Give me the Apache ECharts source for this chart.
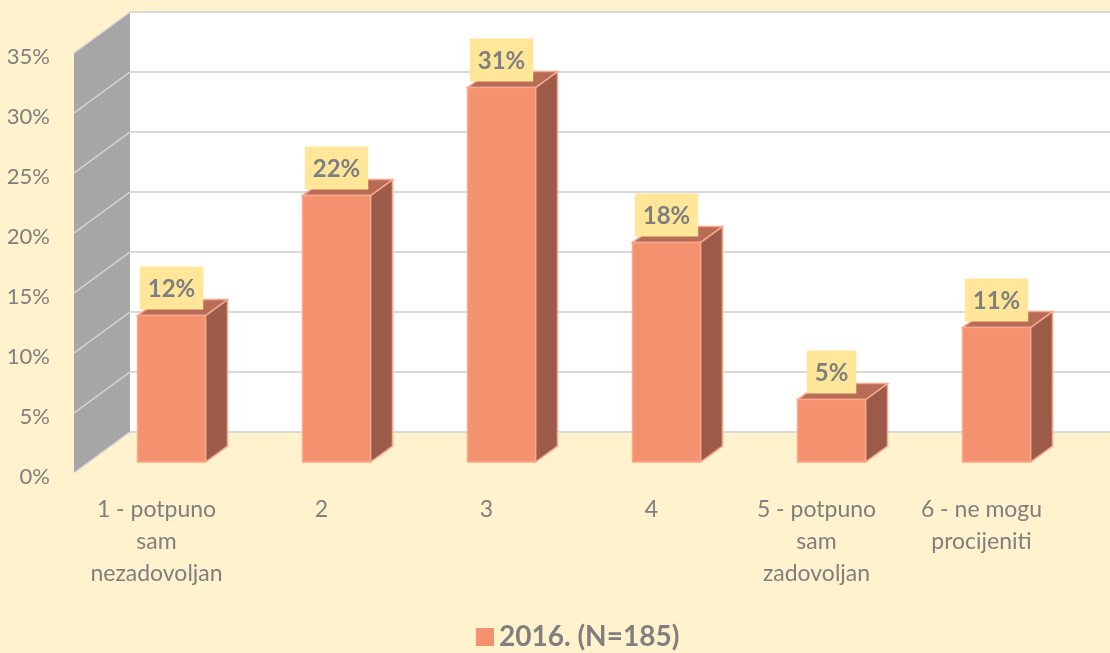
<!DOCTYPE html>
<html>
<head>
<meta charset="utf-8">
<script src="https://cdn.jsdelivr.net/npm/echarts@6/dist/echarts.min.js"></script>
<style>
html,body{margin:0;padding:0;background:#FFF2CC;}
#chart{width:1110px;height:653px;}
</style>
</head>
<body>
<div id="chart"></div>
<script>
const categories = ['1 - potpuno\nsam\nnezadovoljan', '2', '3', '4', '5 - potpuno\nsam\nzadovoljan', '6 - ne mogu\nprocijeniti'];
const values = [12.2, 22.2, 31.2, 18.3, 5.2, 11.2];
const seriesName = '2016. (N=185)';
const yTicks = [0, 5, 10, 15, 20, 25, 30, 35];

const FONT = 'Lato, "Noto Sans", sans-serif';
const GRAY = '#7F7F7F';
const WALL_DX = 56, WALL_DY = -41;
const BAR_OFF_X = 15, BAR_OFF_Y = -11;
const BAR_DX = 22, BAR_DY = -16;

const chart = echarts.init(document.getElementById('chart'));

function renderWalls(params, api) {
  const cs = params.coordSys;
  const left = cs.x;
  const right = cs.x + cs.width;
  const yTop = api.coord([0, yTicks[yTicks.length - 1]])[1];
  const yBot = api.coord([0, yTicks[0]])[1];
  const children = [];
  children.push({
    type: 'rect',
    shape: { x: left + WALL_DX, y: yTop + WALL_DY, width: right - left + 100, height: yBot - yTop },
    style: { fill: '#FFFFFF' }
  });
  children.push({
    type: 'polygon',
    shape: { points: [[left, yBot], [left, yTop], [left + WALL_DX, yTop + WALL_DY], [left + WALL_DX, yBot + WALL_DY]] },
    style: { fill: '#A6A6A6' }
  });
  yTicks.forEach(function (t) {
    const y = api.coord([0, t])[1];
    children.push({
      type: 'line',
      shape: { x1: left + WALL_DX, y1: y + WALL_DY, x2: right + 200, y2: y + WALL_DY },
      style: { stroke: '#D9D9D9', lineWidth: 2 }
    });
    children.push({
      type: 'line',
      shape: { x1: left, y1: y, x2: left + WALL_DX, y2: y + WALL_DY },
      style: { stroke: '#D9D9D9', lineWidth: 1.5 }
    });
  });
  return { type: 'group', children: children };
}

function renderBar(params, api) {
  const i = api.value(0);
  const v = api.value(1);
  const c0 = api.coord([i, 0]);
  const c1 = api.coord([i, v]);
  const w = api.size([1, 0])[0] * 0.412;
  const x0 = c0[0] - w / 2 + BAR_OFF_X;
  const x1 = x0 + w;
  const yb = c0[1] + BAR_OFF_Y;
  const yt = c1[1] + BAR_OFF_Y;
  const stroke = '#F8A98C';
  return {
    type: 'group',
    children: [
      {
        type: 'polygon',
        shape: { points: [[x1, yt], [x1 + BAR_DX, yt + BAR_DY], [x1 + BAR_DX, yb + BAR_DY], [x1, yb]] },
        style: { fill: '#9B5B48', stroke: stroke, lineWidth: 1.5 }
      },
      {
        type: 'polygon',
        shape: { points: [[x0, yt], [x0 + BAR_DX, yt + BAR_DY], [x1 + BAR_DX, yt + BAR_DY], [x1, yt]] },
        style: { fill: '#B86C55', stroke: stroke, lineWidth: 1.5 }
      },
      {
        type: 'rect',
        shape: { x: x0, y: yt, width: w, height: yb - yt },
        style: { fill: '#F4926F', stroke: stroke, lineWidth: 1.5 }
      },
      {
        type: 'text',
        style: {
          x: x0 + w / 2,
          y: yt - 6,
          text: Math.round(v) + '%',
          align: 'center',
          verticalAlign: 'bottom',
          fontFamily: FONT,
          fontWeight: 'bold',
          fontSize: 24,
          lineHeight: 27,
          fill: GRAY,
          backgroundColor: '#FFE699',
          padding: [9, 8, 7, 8]
        }
      }
    ]
  };
}

chart.setOption({
  backgroundColor: '#FFF2CC',
  animation: false,
  grid: { left: 74, right: 46, top: 53, bottom: 180, containLabel: false },
  legend: {
    top: 618,
    left: 471,
    itemWidth: 18,
    itemHeight: 18,
    itemGap: 10,
    icon: 'rect',
    data: [seriesName],
    textStyle: { fontFamily: FONT, fontSize: 28, fontWeight: 'bold', color: GRAY }
  },
  xAxis: {
    type: 'category',
    data: categories,
    axisLine: { show: false },
    axisTick: { show: false },
    axisLabel: { fontFamily: FONT, fontSize: 23, lineHeight: 32, color: GRAY, margin: 21, interval: 0 }
  },
  yAxis: {
    type: 'value',
    min: 0,
    max: 35,
    interval: 5,
    axisLine: { show: false },
    axisTick: { show: false },
    splitLine: { show: false },
    axisLabel: {
      fontFamily: FONT, fontSize: 22, color: GRAY, margin: 24,
      formatter: function (v) { return '{t|' + v + '%}'; },
      rich: { t: { fontFamily: FONT, fontSize: 22, color: GRAY, padding: [8, 0, 0, 0] } }
    }
  },
  series: [
    {
      type: 'custom',
      name: 'walls',
      silent: true,
      clip: false,
      renderItem: renderWalls,
      data: [[0, 0]],
      z: 1
    },
    {
      type: 'custom',
      name: seriesName,
      clip: false,
      itemStyle: { color: '#F4926F' },
      renderItem: renderBar,
      encode: { x: 0, y: 1 },
      data: values.map(function (v, i) { return [i, v]; }),
      z: 2
    }
  ]
});
</script>
</body>
</html>
